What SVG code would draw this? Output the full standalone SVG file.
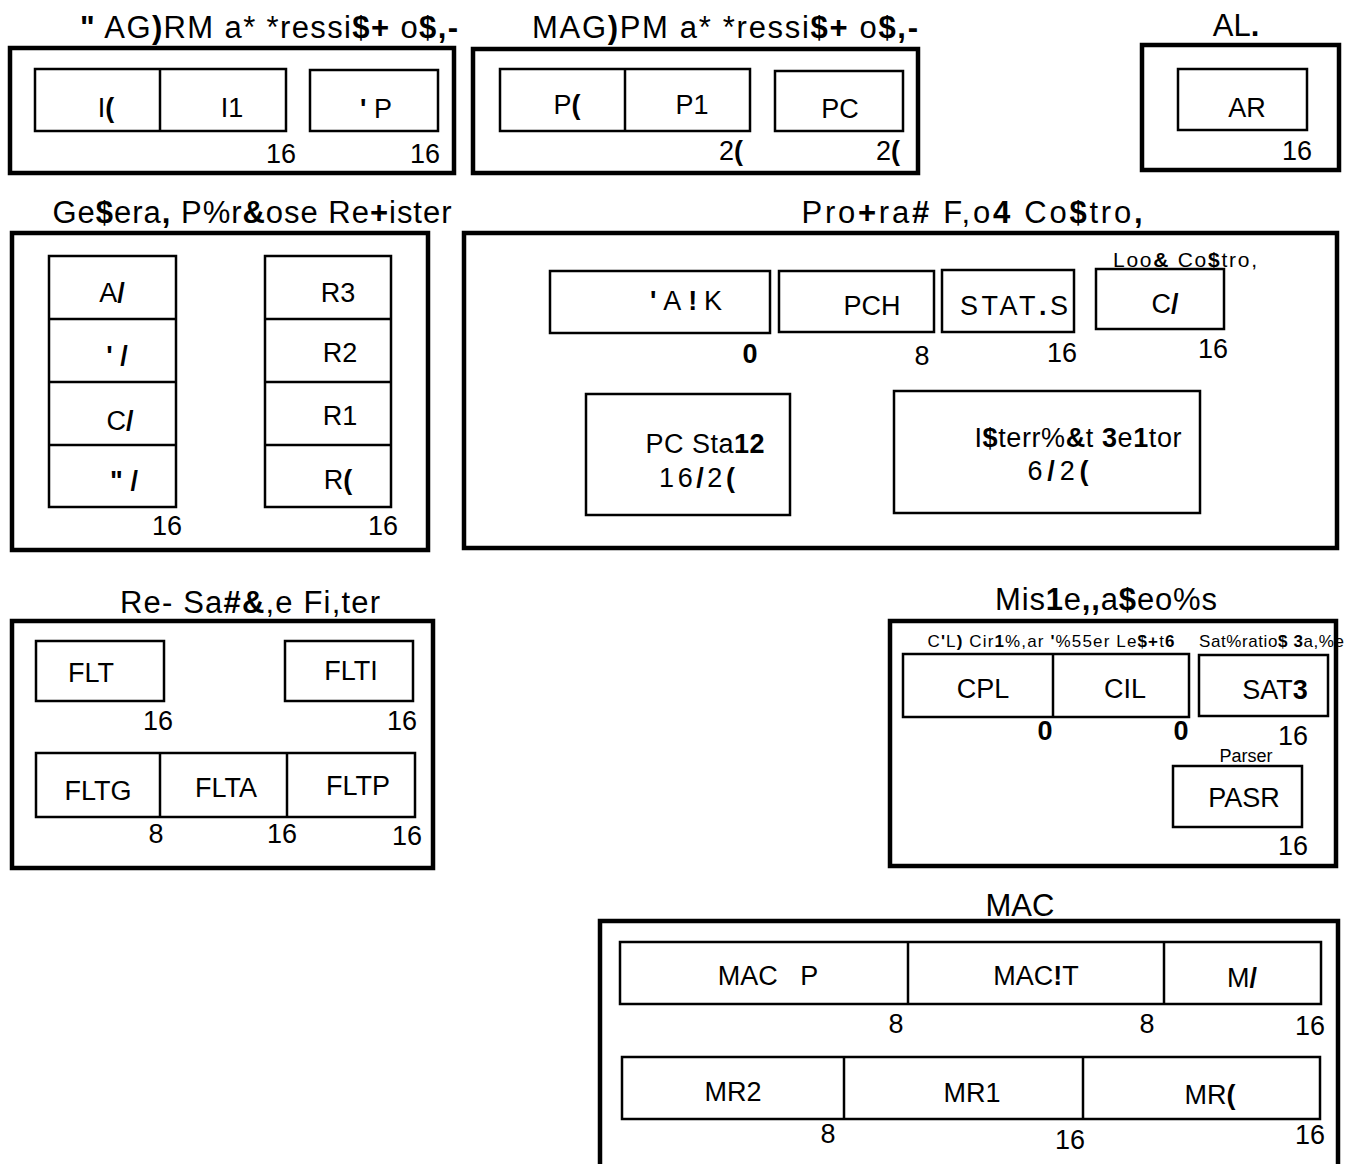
<svg xmlns="http://www.w3.org/2000/svg" width="1346" height="1164" viewBox="0 0 1346 1164">
<style>
.o{fill:none;stroke:#000;stroke-width:4.5}
.i{fill:none;stroke:#000;stroke-width:2.5}
.l{fill:none;stroke:#000;stroke-width:2.5}
text{font-family:"Liberation Sans",Arial,sans-serif;fill:#000;text-anchor:middle;font-size:27px}
.h{font-size:31px}
.s{font-size:17px}
.m{font-size:21px}
.b{font-weight:bold}
</style>
<rect width="1346" height="1164" fill="#fff"/>

<g id="agprm">
<text class="h" x="269" y="38" textLength="378"><tspan class="b">"</tspan> AG<tspan class="b">)</tspan>RM a* *ressi<tspan class="b">$+</tspan> o<tspan class="b">$,-</tspan></text>
<rect class="o" x="10" y="48" width="444" height="125"/>
<rect class="i" x="35" y="69" width="251" height="62"/>
<line class="l" x1="160" y1="69" x2="160" y2="131"/>
<rect class="i" x="310" y="70" width="128" height="61"/>
<text x="106" y="117">I<tspan class="b">(</tspan></text>
<text x="232" y="117">I1</text>
<text x="376" y="118"><tspan class="b">'</tspan> P</text>
<text x="281" y="163">16</text>
<text x="425" y="163">16</text>
</g>

<g id="magpm">
<text class="h" x="725" y="38" textLength="386">MAG<tspan class="b">)</tspan>PM a* *ressi<tspan class="b">$+</tspan> o<tspan class="b">$,-</tspan></text>
<rect class="o" x="473" y="49" width="445" height="124"/>
<rect class="i" x="500" y="69" width="250" height="62"/>
<line class="l" x1="625" y1="69" x2="625" y2="131"/>
<rect class="i" x="775" y="71" width="128" height="60"/>
<text x="567" y="114">P<tspan class="b">(</tspan></text>
<text x="692" y="114">P1</text>
<text x="840" y="118">PC</text>
<text x="731" y="160">2<tspan class="b">(</tspan></text>
<text x="888" y="160">2<tspan class="b">(</tspan></text>
</g>

<g id="alu">
<text class="h" x="1236" y="36">AL<tspan class="b">.</tspan></text>
<rect class="o" x="1142" y="45" width="197" height="125"/>
<rect class="i" x="1178" y="69" width="129" height="61"/>
<text x="1247" y="117">AR</text>
<text x="1297" y="160">16</text>
</g>

<g id="gpr">
<text class="h" x="252" y="223" textLength="399">Ge<tspan class="b">$</tspan>era<tspan class="b">,</tspan> P%r<tspan class="b">&amp;</tspan>ose Re<tspan class="b">+</tspan>ister</text>
<rect class="o" x="12" y="233" width="416" height="317"/>
<rect class="i" x="49" y="256" width="127" height="251"/>
<line class="l" x1="49" y1="319" x2="176" y2="319"/>
<line class="l" x1="49" y1="382" x2="176" y2="382"/>
<line class="l" x1="49" y1="445" x2="176" y2="445"/>
<rect class="i" x="265" y="256" width="126" height="251"/>
<line class="l" x1="265" y1="319" x2="391" y2="319"/>
<line class="l" x1="265" y1="382" x2="391" y2="382"/>
<line class="l" x1="265" y1="445" x2="391" y2="445"/>
<text x="112" y="302">A<tspan class="b">/</tspan></text>
<text x="117" y="365"><tspan class="b">'</tspan> <tspan class="b">/</tspan></text>
<text x="120" y="430">C<tspan class="b">/</tspan></text>
<text x="124" y="490"><tspan class="b">"</tspan> <tspan class="b">/</tspan></text>
<text x="338" y="302">R3</text>
<text x="340" y="362">R2</text>
<text x="340" y="425">R1</text>
<text x="338" y="489">R<tspan class="b">(</tspan></text>
<text x="167" y="535">16</text>
<text x="383" y="535">16</text>
</g>

<g id="pfc">
<text class="h" x="972" y="223" textLength="341">Pro<tspan class="b">+</tspan>ra<tspan class="b">#</tspan> F,o<tspan class="b">4</tspan> Co<tspan class="b">$</tspan>tro<tspan class="b">,</tspan></text>
<rect class="o" x="464" y="233" width="873" height="315"/>
<rect class="i" x="550" y="271" width="220" height="62"/>
<text x="686" y="310" textLength="72"><tspan class="b">'</tspan>A<tspan class="b">!</tspan>K</text>
<text x="750" y="363" class="b">0</text>
<rect class="i" x="779" y="271" width="155" height="61"/>
<text x="872" y="315">PCH</text>
<text x="922" y="365">8</text>
<rect class="i" x="942" y="270" width="132" height="62"/>
<text x="1014" y="315" textLength="108">STAT<tspan class="b">.</tspan>S</text>
<text x="1062" y="362">16</text>
<text class="m" x="1185" y="267" textLength="144">Loo<tspan class="b">&amp;</tspan> Co<tspan class="b">$</tspan>tro,</text>
<rect class="i" x="1096" y="269" width="128" height="60"/>
<text x="1165" y="313">C<tspan class="b">/</tspan></text>
<text x="1213" y="358">16</text>
<rect class="i" x="586" y="394" width="204" height="121"/>
<text x="705" y="453" textLength="119">PC Sta<tspan class="b">12</tspan></text>
<text x="697" y="487" textLength="76">16<tspan class="b">/</tspan>2<tspan class="b">(</tspan></text>
<rect class="i" x="894" y="391" width="306" height="122"/>
<text x="1078" y="447" textLength="207">I<tspan class="b">$</tspan>terr%<tspan class="b">&amp;</tspan>t <tspan class="b">3</tspan>e<tspan class="b">1</tspan>tor</text>
<text x="1058" y="480" textLength="61">6<tspan class="b">/</tspan>2<tspan class="b">(</tspan></text>
</g>

<g id="rsf">
<text class="h" x="250" y="613" textLength="260">Re- Sa<tspan class="b">#&amp;</tspan>,e Fi,ter</text>
<rect class="o" x="12" y="621" width="421" height="247"/>
<rect class="i" x="36" y="641" width="128" height="60"/>
<text x="91" y="682">FLT</text>
<text x="158" y="730">16</text>
<rect class="i" x="285" y="641" width="128" height="60"/>
<text x="351" y="680">FLTI</text>
<text x="402" y="730">16</text>
<rect class="i" x="36" y="753" width="379" height="64"/>
<line class="l" x1="160" y1="753" x2="160" y2="817"/>
<line class="l" x1="287" y1="753" x2="287" y2="817"/>
<text x="98" y="800">FLTG</text>
<text x="226" y="797">FLTA</text>
<text x="358" y="795">FLTP</text>
<text x="156" y="843">8</text>
<text x="282" y="843">16</text>
<text x="407" y="845">16</text>
</g>

<g id="misc">
<text class="h" x="1106" y="610" textLength="222">Mis<tspan class="b">1</tspan>e<tspan class="b">,,</tspan>a<tspan class="b">$</tspan>eo%s</text>
<rect class="o" x="890" y="621" width="446" height="245"/>
<text class="s" x="1051" y="647" textLength="247">C<tspan class="b">'</tspan>L<tspan class="b">)</tspan> Cir<tspan class="b">1</tspan>%,ar <tspan class="b">'</tspan>%55er Le<tspan class="b">$+</tspan>t<tspan class="b">6</tspan></text>
<text class="s" x="1199" y="647" style="text-anchor:start" textLength="145">Sat%ratio<tspan class="b">$</tspan> <tspan class="b">3</tspan>a,%e</text>
<rect class="i" x="903" y="654" width="286" height="63"/>
<line class="l" x1="1053" y1="654" x2="1053" y2="717"/>
<text x="983" y="698">CPL</text>
<text x="1125" y="698">CIL</text>
<text x="1045" y="740" class="b">0</text>
<text x="1181" y="740" class="b">0</text>
<rect class="i" x="1199" y="655" width="129" height="61"/>
<text x="1275" y="699">SAT<tspan class="b">3</tspan></text>
<text x="1293" y="745">16</text>
<text x="1246" y="762" style="font-size:18px">Parser</text>
<rect class="i" x="1173" y="766" width="129" height="61"/>
<text x="1244" y="807">PASR</text>
<text x="1293" y="855">16</text>
</g>

<g id="mac">
<text class="h" x="1020" y="916">MAC</text>
<rect class="o" x="600" y="921" width="738" height="260"/>
<rect class="i" x="620" y="942" width="701" height="62"/>
<line class="l" x1="908" y1="942" x2="908" y2="1004"/>
<line class="l" x1="1164" y1="942" x2="1164" y2="1004"/>
<text x="768" y="985" xml:space="preserve">MAC   P</text>
<text x="1036" y="985">MAC<tspan class="b">!</tspan>T</text>
<text x="1242" y="987">M<tspan class="b">/</tspan></text>
<text x="896" y="1033">8</text>
<text x="1147" y="1033">8</text>
<text x="1310" y="1035">16</text>
<rect class="i" x="622" y="1057" width="698" height="62"/>
<line class="l" x1="844" y1="1057" x2="844" y2="1119"/>
<line class="l" x1="1083" y1="1057" x2="1083" y2="1119"/>
<text x="733" y="1101">MR2</text>
<text x="972" y="1102">MR1</text>
<text x="1210" y="1104">MR<tspan class="b">(</tspan></text>
<text x="828" y="1143">8</text>
<text x="1070" y="1149">16</text>
<text x="1310" y="1144">16</text>
</g>

<g id="connectors"></g>
</svg>
